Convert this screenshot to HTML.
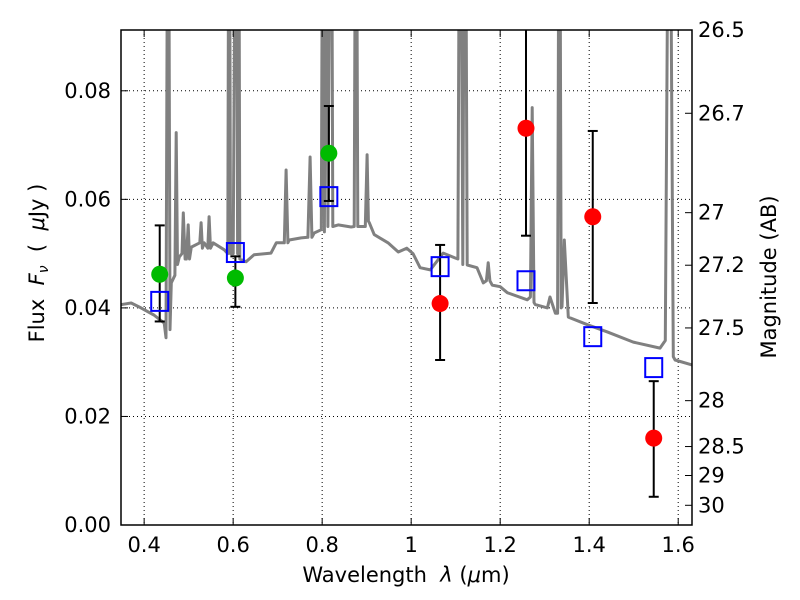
<!DOCTYPE html>
<html><head><meta charset="utf-8"><style>
body{margin:0;background:#fff;}
svg{display:block;font-family:"DejaVu Sans","Liberation Sans",sans-serif;}
</style></head><body>
<svg id="chart" width="800" height="600" viewBox="0 0 800 600"></svg>
<script>
const specWave=[0.348,0.371,0.393,0.422,0.445,0.449,0.454,0.458,0.461,0.469,0.472,0.475,0.479,0.485,0.488,0.492,0.495,0.499,0.502,0.506,0.525,0.528,0.531,0.535,0.543,0.546,0.549,0.555,0.580,0.588,0.591,0.594,0.600,0.607,0.610,0.612,0.615,0.629,0.647,0.685,0.697,0.715,0.719,0.723,0.726,0.753,0.768,0.773,0.777,0.782,0.798,0.802,0.805,0.809,0.813,0.820,0.824,0.836,0.865,0.872,0.876,0.880,0.897,0.901,0.904,0.906,0.917,0.948,0.971,0.990,1.004,1.020,1.043,1.072,1.099,1.105,1.110,1.116,1.121,1.126,1.148,1.162,1.169,1.173,1.177,1.182,1.200,1.216,1.261,1.268,1.272,1.276,1.279,1.306,1.312,1.324,1.329,1.333,1.337,1.339,1.344,1.353,1.396,1.440,1.499,1.559,1.571,1.580,1.589,1.593,1.631];
const specFlux=[0.0406,0.0409,0.0400,0.0387,0.0372,0.0345,0.15,0.036,0.0446,0.046,0.0723,0.048,0.0494,0.050,0.0575,0.049,0.049,0.0553,0.049,0.0512,0.052,0.0557,0.051,0.052,0.051,0.0568,0.051,0.052,0.0507,0.050,0.15,0.05,0.050,0.15,0.05,0.15,0.049,0.0485,0.0498,0.0501,0.052,0.052,0.0654,0.052,0.0525,0.0529,0.053,0.0678,0.053,0.0538,0.0544,0.15,0.054,0.15,0.055,0.15,0.055,0.0553,0.0549,0.055,0.15,0.055,0.055,0.0682,0.056,0.0557,0.0535,0.052,0.0503,0.051,0.050,0.0474,0.047,0.0501,0.0492,0.049,0.15,0.048,0.15,0.0479,0.0474,0.0446,0.045,0.0483,0.045,0.0442,0.0439,0.0428,0.0415,0.042,0.0769,0.041,0.0406,0.040,0.042,0.039,0.039,0.15,0.040,0.0402,0.0525,0.0383,0.0369,0.0356,0.0337,0.0326,0.034,0.15,0.031,0.0304,0.0295];
const photWave=[0.435,0.605,0.815,1.065,1.258,1.408,1.545];
const modelFlux=[0.0412,0.0502,0.0605,0.0476,0.0450,0.0347,0.0290];
const obsFlux=[0.0462,0.0455,0.0685,0.0408,0.0731,0.0568,0.0160];
const obsLow=[0.0375,0.0402,0.0597,0.0304,0.0533,0.0409,0.0052];
const obsHigh=[0.0552,0.0495,0.0772,0.0516,0.0960,0.0726,0.0265];
const obsColor=['#00bb00','#00bb00','#00bb00','#ff0000','#ff0000','#ff0000','#ff0000'];
const xTicks=[0.4,0.6,0.8,1.0,1.2,1.4,1.6];
const xTickLabels=['0.4','0.6','0.8','1','1.2','1.4','1.6'];
const yTicks=[0,0.02,0.04,0.06,0.08];
const yTickLabels=['0.00','0.02','0.04','0.06','0.08'];
const magTicks=[26.5,26.7,27,27.2,27.5,28,28.5,29,30];
const magLabels=['26.5','26.7','27','27.2','27.5','28','28.5','29','30'];

const L=121,R=692,T=30,B=525,XMIN=0.348,XMAX=1.631,YMIN=0,YMAX=0.0912;
const sx=v=>L+(v-XMIN)/(XMAX-XMIN)*(R-L);
const sy=v=>B-(v-YMIN)/(YMAX-YMIN)*(B-T);
const NS='http://www.w3.org/2000/svg';
const svg=document.getElementById('chart');
function mk(tag,attrs,parent){const e=document.createElementNS(NS,tag);for(const k in attrs)e.setAttribute(k,attrs[k]);(parent||svg).appendChild(e);return e;}
const defs=mk('defs',{});const cp=mk('clipPath',{id:'clip'},defs);mk('rect',{x:L,y:T,width:R-L,height:B-T},cp);

xTicks.forEach(t=>{const g=mk('line',{x1:sx(t),x2:sx(t),y1:T,y2:B,stroke:'#000','stroke-width':1,'stroke-dasharray':'1,3'});

});
yTicks.forEach(t=>{const g=mk('line',{x1:L,x2:R,y1:sy(t),y2:sy(t),stroke:'#000','stroke-width':1,'stroke-dasharray':'1,3'});

});

const pts=specWave.map((w,i)=>sx(w).toFixed(1)+','+sy(specFlux[i]).toFixed(1)).join(' ');
const sp=mk('polyline',{points:pts,fill:'none',stroke:'#808080','stroke-width':3,'stroke-linejoin':'round','clip-path':'url(#clip)'});



photWave.forEach((w,i)=>{
  const x=sx(w);
  const eb=mk('g',{'clip-path':'url(#clip)'});
  
  
  mk('line',{x1:x,x2:x,y1:sy(obsLow[i]),y2:sy(obsHigh[i]),stroke:'#000','stroke-width':2},eb);
  mk('line',{x1:x-5,x2:x+5,y1:sy(obsLow[i]),y2:sy(obsLow[i]),stroke:'#000','stroke-width':2},eb);
  mk('line',{x1:x-5,x2:x+5,y1:sy(obsHigh[i]),y2:sy(obsHigh[i]),stroke:'#000','stroke-width':2},eb);
});
photWave.forEach((w,i)=>{
  const s=mk('rect',{x:sx(w)-8.5,y:sy(modelFlux[i])-9.5,width:17,height:19,fill:'none',stroke:'#0000ff','stroke-width':2});
  
  
});
photWave.forEach((w,i)=>{
  const c=mk('circle',{cx:sx(w),cy:sy(obsFlux[i]),r:8.5,fill:obsColor[i]});
  
  
});

const fr=mk('rect',{x:L,y:T,width:R-L,height:B-T,fill:'none',stroke:'#000','stroke-width':1.5});



xTicks.forEach((t,i)=>{const x=sx(t);
  mk('line',{x1:x,x2:x,y1:B,y2:B-7,stroke:'#000'});mk('line',{x1:x,x2:x,y1:T,y2:T+7,stroke:'#000'});
  const tx=mk('text',{x:x,y:B+27,'text-anchor':'middle','font-size':21});tx.textContent=xTickLabels[i];
  
  });
yTicks.forEach((t,i)=>{const y=sy(t);
  mk('line',{x1:L,x2:L+7,y1:y,y2:y,stroke:'#000'});
  const tx=mk('text',{x:L-10,y:y+7,'text-anchor':'end','font-size':21});tx.textContent=yTickLabels[i];
  
  });
magTicks.forEach((m,i)=>{const y=sy(Math.pow(10,(23.9-m)/2.5));
  mk('line',{x1:R,x2:R-7,y1:y,y2:y,stroke:'#000'});
  const tx=mk('text',{x:R+6,y:y+7,'font-size':21});tx.textContent=magLabels[i];
  
  });
</script>
<svg style="position:absolute;left:0;top:0" width="800" height="600">
<text xml:space="preserve" x="406" y="582" text-anchor="middle" font-size="21" font-family="DejaVu Sans,sans-serif">Wavelength  <tspan font-style="italic">λ</tspan> (<tspan font-style="italic">μ</tspan>m)</text>
<text xml:space="preserve" transform="translate(44,263) rotate(-90)" text-anchor="middle" font-size="21" font-family="DejaVu Sans,sans-serif">Flux  <tspan font-style="italic">F</tspan><tspan font-style="italic" font-size="14" dy="4">ν</tspan><tspan dy="-4">  (  </tspan><tspan font-style="italic">μ</tspan>Jy )</text>
<text transform="translate(776,277) rotate(-90)" text-anchor="middle" font-size="21" font-family="DejaVu Sans,sans-serif">Magnitude (AB)</text>
</svg>
</body></html>
